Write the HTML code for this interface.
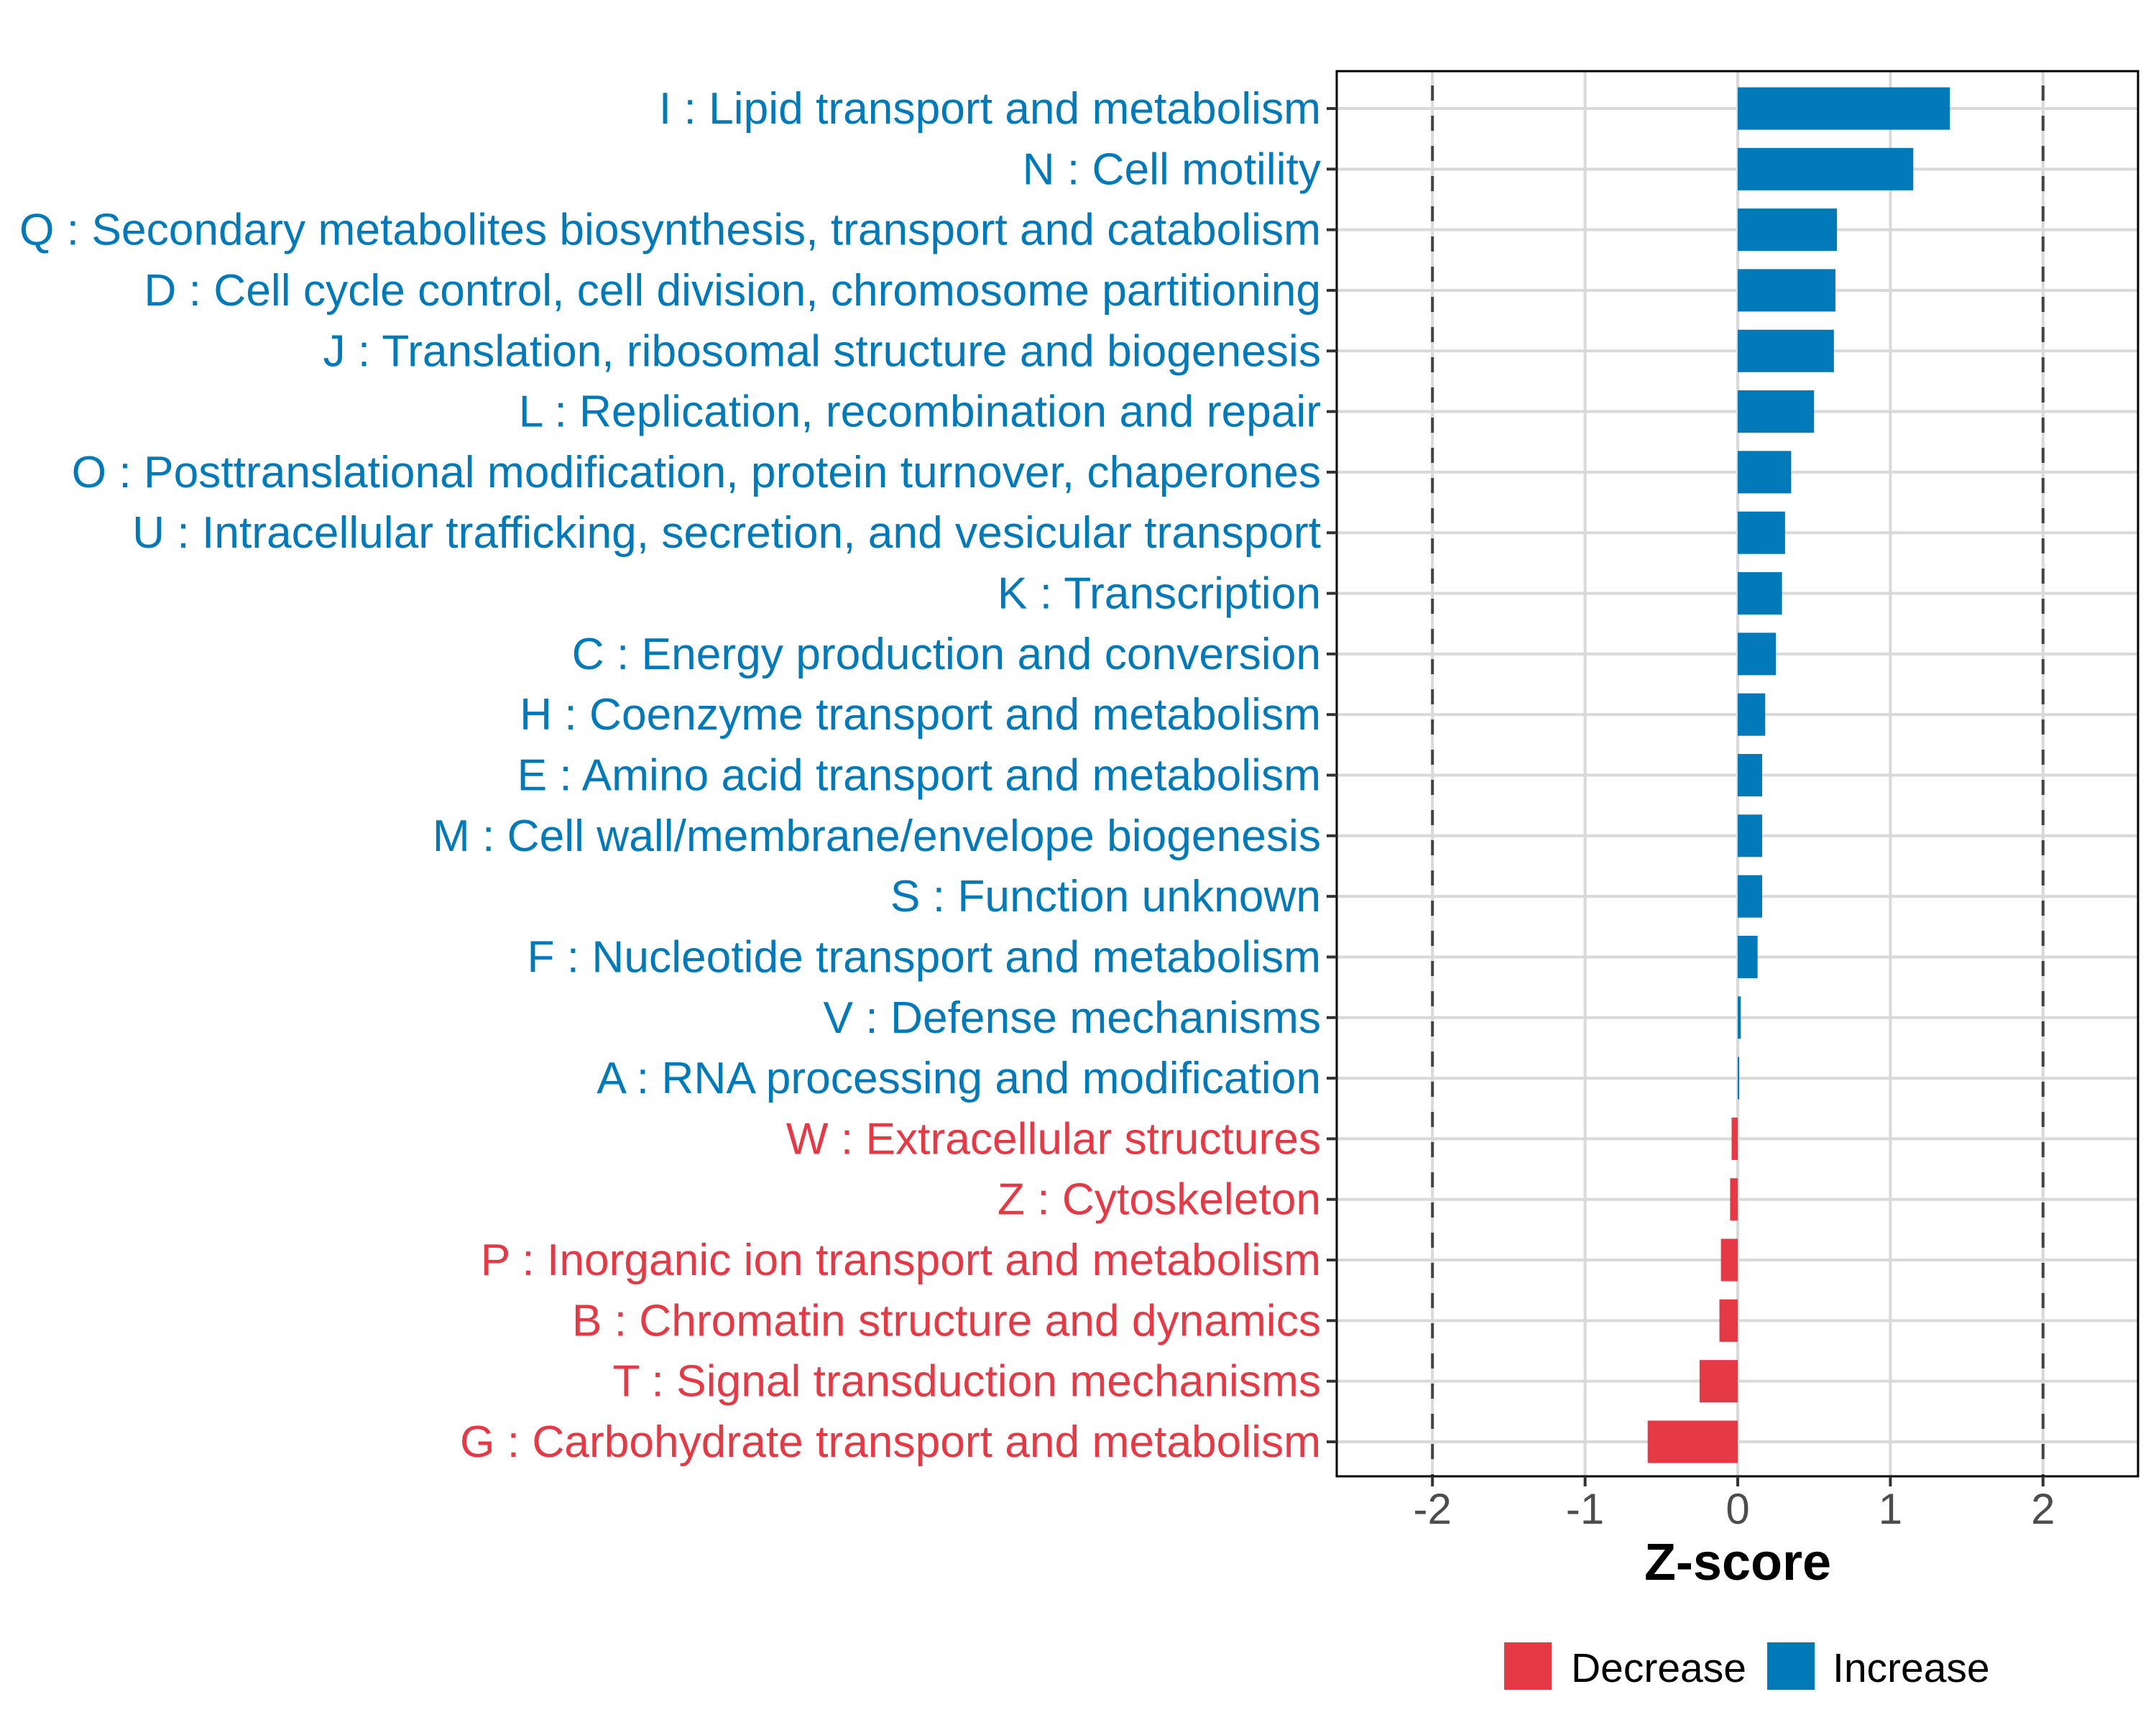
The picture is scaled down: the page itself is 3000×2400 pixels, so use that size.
<!DOCTYPE html>
<html><head><meta charset="utf-8"><style>
html,body{margin:0;padding:0;background:#fff;}
svg{display:block;font-family:"Liberation Sans",Arial,sans-serif;}
</style></head><body>
<svg id="chart" width="3000" height="2400" viewBox="0 0 3000 2400" xmlns="http://www.w3.org/2000/svg">
<rect x="0" y="0" width="3000" height="2400" fill="#fff"/>
<g id="grid"></g>
<g id="bars"></g>
<g id="ylabels"></g>
<g id="xaxis"></g>
<text x="2418" y="2198" font-size="72" font-weight="bold" text-anchor="middle" fill="#000">Z-score</text>
<g>
<rect x="2093" y="2285" width="66" height="66" fill="#e63946"/>
<text x="2186" y="2340" font-size="57" fill="#000">Decrease</text>
<rect x="2459" y="2285" width="66" height="66" fill="#0279b8"/>
<text x="2550" y="2340" font-size="57" fill="#000">Increase</text>
</g>
</svg>
<script>
const categories = [
"I : Lipid transport and metabolism",
"N : Cell motility",
"Q : Secondary metabolites biosynthesis, transport and catabolism",
"D : Cell cycle control, cell division, chromosome partitioning",
"J : Translation, ribosomal structure and biogenesis",
"L : Replication, recombination and repair",
"O : Posttranslational modification, protein turnover, chaperones",
"U : Intracellular trafficking, secretion, and vesicular transport",
"K : Transcription",
"C : Energy production and conversion",
"H : Coenzyme transport and metabolism",
"E : Amino acid transport and metabolism",
"M : Cell wall/membrane/envelope biogenesis",
"S : Function unknown",
"F : Nucleotide transport and metabolism",
"V : Defense mechanisms",
"A : RNA processing and modification",
"W : Extracellular structures",
"Z : Cytoskeleton",
"P : Inorganic ion transport and metabolism",
"B : Chromatin structure and dynamics",
"T : Signal transduction mechanisms",
"G : Carbohydrate transport and metabolism"];
const zscores = [1.39,1.15,0.65,0.64,0.63,0.50,0.35,0.31,0.29,0.25,0.18,0.16,0.16,0.16,0.13,0.02,0.01,-0.04,-0.05,-0.11,-0.12,-0.25,-0.59];
const xTicks = [-2,-1,0,1,2];
const xTickLabels = ["-2","-1","0","1","2"];
const thresholds = [-2,2];

const NS="http://www.w3.org/2000/svg";
const P={l:1860,r:2975,t:99,b:2054};
const x0=2418, unit=212.4;
function xs(v){return x0+v*unit;}
const yFirst=151, yStep=(2006-151)/22;
function ys(i){return yFirst+i*yStep;}
const BLUE="#0279b8", RED="#e63946";
function mk(tag,attrs,parent){const e=document.createElementNS(NS,tag);for(const k in attrs)e.setAttribute(k,attrs[k]);parent.appendChild(e);return e;}
const grid=document.getElementById('grid'),bars=document.getElementById('bars'),yl=document.getElementById('ylabels'),xa=document.getElementById('xaxis');
xTicks.forEach(t=>{
 const ln=mk('line',{x1:xs(t),x2:xs(t),y1:P.t,y2:P.b,stroke:'#d9d9d9','stroke-width':4},grid);
 
 
});
categories.forEach((c,i)=>{
 const ln=mk('line',{x1:P.l,x2:P.r,y1:ys(i),y2:ys(i),stroke:'#d9d9d9','stroke-width':4},grid);
 
 
});
const bh=59;
zscores.forEach((v,i)=>{
 const a=xs(Math.min(0,v)),b=xs(Math.max(0,v));
 const r=mk('rect',{x:a,y:ys(i)-bh/2,width:Math.max(b-a,1.5),height:bh,fill:v>=0?BLUE:RED},bars);
 
 
});
thresholds.forEach(t=>{
 const ln=mk('line',{x1:xs(t),x2:xs(t),y1:P.t,y2:P.b,stroke:'#444','stroke-width':4,'stroke-dasharray':'21 21','stroke-dashoffset':'-20'},bars);
 
 
});
const bd=mk('rect',{x:P.l,y:P.t,width:P.r-P.l,height:P.b-P.t,fill:'none',stroke:'#000','stroke-width':3},bars);


const labels=[];
categories.forEach((c,i)=>{
 const tk=mk('line',{x1:P.l-14,x2:P.l,y1:ys(i),y2:ys(i),stroke:'#333','stroke-width':4},yl);
 
 
 const t=mk('text',{x:1838,y:ys(i)+21,'text-anchor':'end','font-size':58,fill:zscores[i]>=0?BLUE:RED},yl);
 t.textContent=c;
 
 
 labels.push(t);
});
try{
 const w=labels[2].getComputedTextLength();
 if(w>0){const fs=58*1812/w; if(fs>45&&fs<75) labels.forEach(l=>l.setAttribute('font-size',fs.toFixed(1)));}
}catch(e){}
xTicks.forEach((t,i)=>{
 const tk=mk('line',{x1:xs(t),x2:xs(t),y1:P.b,y2:P.b+14,stroke:'#333','stroke-width':4},xa);
 
 
 const tx=mk('text',{x:xs(t),y:2120,'text-anchor':'middle','font-size':60,fill:'#4d4d4d'},xa);
 tx.textContent=xTickLabels[i];
 
 
});
</script>
</body></html>
